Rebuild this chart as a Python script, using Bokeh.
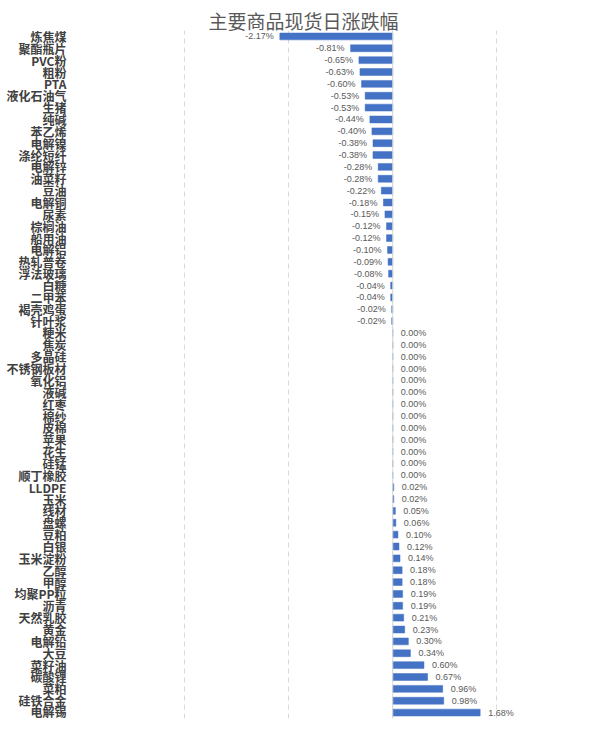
from bokeh.plotting import figure
from bokeh.models import ColumnDataSource, FactorRange, FixedTicker, Span
from bokeh.core.properties import value
from bokeh.embed import file_html
from bokeh.resources import INLINE

categories = [
    "炼焦煤", "聚酯瓶片", "PVC粉", "粗粉", "PTA", "液化石油气", "生猪", "纯碱",
    "苯乙烯", "电解镍", "涤纶短纤", "电解锌", "油菜籽", "豆油", "电解铜", "尿素",
    "棕榈油", "船用油", "电解铝", "热轧普卷", "浮法玻璃", "白糖", "二甲苯", "褐壳鸡蛋",
    "针叶浆", "粳米", "焦炭", "多晶硅", "不锈钢板材", "氧化铝", "液碱", "红枣",
    "棉纱", "皮棉", "苹果", "花生", "硅锰", "顺丁橡胶", "LLDPE", "玉米",
    "线材", "盘螺", "豆粕", "白银", "玉米淀粉", "乙醇", "甲醇", "均聚PP粒",
    "沥青", "天然乳胶", "黄金", "电解铅", "大豆", "菜籽油", "碳酸锂", "菜粕",
    "硅铁合金", "电解锡",
]
changes = [
    -2.17, -0.81, -0.65, -0.63, -0.60, -0.53, -0.53, -0.44,
    -0.40, -0.38, -0.38, -0.28, -0.28, -0.22, -0.18, -0.15,
    -0.12, -0.12, -0.10, -0.09, -0.08, -0.04, -0.04, -0.02,
    -0.02, 0.00, 0.00, 0.00, 0.00, 0.00, 0.00, 0.00,
    0.00, 0.00, 0.00, 0.00, 0.00, 0.00, 0.02, 0.02,
    0.05, 0.06, 0.10, 0.12, 0.14, 0.18, 0.18, 0.19,
    0.19, 0.21, 0.23, 0.30, 0.34, 0.60, 0.67, 0.96,
    0.98, 1.68,
]
grid_ticks = [-6, -4, -2, 0, 2, 4]
title_text = "主要商品现货日涨跌幅"

labels = [f"{v:.2f}%" for v in changes]
aligns = ["right" if v < 0 else "left" for v in changes]
offsets = [-6 if v < 0 else 8 for v in changes]

src = ColumnDataSource(dict(cat=categories, val=changes, lab=labels,
                            align=aligns, off=offsets))

p = figure(width=590, height=719, output_backend="svg", toolbar_location=None,
           y_range=FactorRange(*categories[::-1]), x_range=(-6, 3.8),
           min_border_left=80, min_border_right=0, min_border_top=30,
           min_border_bottom=1, title=title_text)

p.title.align = "left"
p.title.offset = 128
p.title.standoff = -6
p.title.text_font = "Noto Sans CJK SC"
p.title.text_font_size = "19px"
p.title.text_font_style = "normal"
p.title.text_color = "#595959"

p.xgrid.ticker = FixedTicker(ticks=grid_ticks)
p.xgrid.grid_line_color = "#d9d9d9"
p.xgrid.grid_line_dash = "5 4"
p.xgrid.grid_line_width = 1
p.ygrid.grid_line_color = None
p.xaxis.visible = False
p.outline_line_color = None

p.yaxis.axis_line_color = None
p.yaxis.major_tick_line_color = None
p.yaxis.minor_tick_line_color = None
p.yaxis.major_label_text_font = "Noto Sans CJK SC"
p.yaxis.major_label_text_font_size = "12px"
p.yaxis.major_label_text_font_style = "bold"
p.yaxis.major_label_text_color = "#404040"
p.yaxis.major_label_standoff = 8

p.add_layout(Span(location=0, dimension="height", line_color="#d9d9d9", line_width=1))

p.hbar(y="cat", right="val", left=0, height=0.58, source=src,
       fill_color="#4472c4", line_color="#4472c4", line_width=0.5)

p.text(x="val", y="cat", text="lab", source=src, x_offset="off",
       text_align="align", text_baseline="middle",
       text_font=value("Liberation Sans"), text_font_size="9px",
       text_color="#595959")

open("out.html", "w").write(file_html(p, INLINE))
